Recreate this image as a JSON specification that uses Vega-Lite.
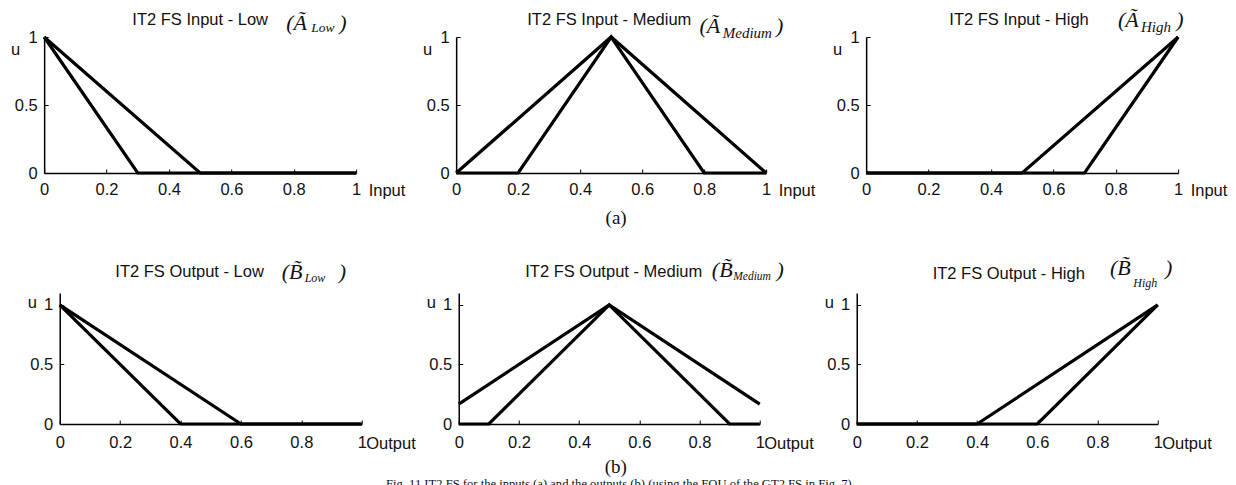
{
 "$schema": "https://vega.github.io/schema/vega-lite/v6.json",
 "background": "white",
 "padding": {"left": 10, "top": 8, "right": 5, "bottom": 0},
 "config": {
  "view": {"stroke": null},
  "axis": {"domainColor": "#000", "domainWidth": 1.5, "tickColor": "#000", "tickWidth": 1, "tickSize": -4, "grid": false, "labelFont": "Liberation Sans", "labelFontSize": 16.5, "labelColor": "#111", "labelFlush": false, "labelOverlap": false, "titleFont": "Liberation Sans", "titleFontSize": 16.5, "titleFontWeight": "normal", "titleColor": "#111"}
 },
 "datasets": {
  "mf": [
   {"p": "IL", "s": "up", "i": 0, "x": 0, "y": 1}, {"p": "IL", "s": "up", "i": 1, "x": 0.5, "y": 0}, {"p": "IL", "s": "up", "i": 2, "x": 1, "y": 0},
   {"p": "IL", "s": "lo", "i": 0, "x": 0, "y": 1}, {"p": "IL", "s": "lo", "i": 1, "x": 0.3, "y": 0}, {"p": "IL", "s": "lo", "i": 2, "x": 1, "y": 0},
   {"p": "IM", "s": "up", "i": 0, "x": 0, "y": 0}, {"p": "IM", "s": "up", "i": 1, "x": 0.5, "y": 1}, {"p": "IM", "s": "up", "i": 2, "x": 1, "y": 0},
   {"p": "IM", "s": "lo", "i": 0, "x": 0, "y": 0}, {"p": "IM", "s": "lo", "i": 1, "x": 0.2, "y": 0}, {"p": "IM", "s": "lo", "i": 2, "x": 0.5, "y": 1}, {"p": "IM", "s": "lo", "i": 3, "x": 0.8, "y": 0}, {"p": "IM", "s": "lo", "i": 4, "x": 1, "y": 0},
   {"p": "IH", "s": "up", "i": 0, "x": 0, "y": 0}, {"p": "IH", "s": "up", "i": 1, "x": 0.5, "y": 0}, {"p": "IH", "s": "up", "i": 2, "x": 1, "y": 1},
   {"p": "IH", "s": "lo", "i": 0, "x": 0, "y": 0}, {"p": "IH", "s": "lo", "i": 1, "x": 0.7, "y": 0}, {"p": "IH", "s": "lo", "i": 2, "x": 1, "y": 1},
   {"p": "OL", "s": "up", "i": 0, "x": 0, "y": 1}, {"p": "OL", "s": "up", "i": 1, "x": 0.6, "y": 0}, {"p": "OL", "s": "up", "i": 2, "x": 1, "y": 0},
   {"p": "OL", "s": "lo", "i": 0, "x": 0, "y": 1}, {"p": "OL", "s": "lo", "i": 1, "x": 0.4, "y": 0}, {"p": "OL", "s": "lo", "i": 2, "x": 1, "y": 0},
   {"p": "OM", "s": "up", "i": 0, "x": 0, "y": 0.167}, {"p": "OM", "s": "up", "i": 1, "x": 0.5, "y": 1}, {"p": "OM", "s": "up", "i": 2, "x": 1, "y": 0.167},
   {"p": "OM", "s": "lo", "i": 0, "x": 0, "y": 0}, {"p": "OM", "s": "lo", "i": 1, "x": 0.1, "y": 0}, {"p": "OM", "s": "lo", "i": 2, "x": 0.5, "y": 1}, {"p": "OM", "s": "lo", "i": 3, "x": 0.9, "y": 0}, {"p": "OM", "s": "lo", "i": 4, "x": 1, "y": 0},
   {"p": "OH", "s": "up", "i": 0, "x": 0, "y": 0}, {"p": "OH", "s": "up", "i": 1, "x": 0.4, "y": 0}, {"p": "OH", "s": "up", "i": 2, "x": 1, "y": 1},
   {"p": "OH", "s": "lo", "i": 0, "x": 0, "y": 0}, {"p": "OH", "s": "lo", "i": 1, "x": 0.6, "y": 0}, {"p": "OH", "s": "lo", "i": 2, "x": 1, "y": 1}
  ]
 },
 "spacing": 28,
 "center": true,
 "vconcat": [
  {
   "spacing": 100,
   "bounds": "flush",
   "hconcat": [
    {
     "width": 312, "height": 136,
     "resolve": {"axis": {"x": "independent", "y": "independent"}},
     "layer": [
      {"data": {"name": "mf"}, "transform": [{"filter": "datum.p === 'IL'"}], "mark": {"type": "line", "color": "#000", "strokeWidth": 3.2},
       "encoding": {
        "x": {"field": "x", "type": "quantitative", "scale": {"domain": [0, 1], "nice": false}, "axis": {"values": [0, 0.2, 0.4, 0.6, 0.8, 1], "format": "~g", "title": "Input", "titleX": 324, "titleY": 22, "titleAlign": "left", "titleBaseline": "alphabetic", "labelPadding": 12}},
        "y": {"field": "y", "type": "quantitative", "scale": {"domain": [0, 1], "nice": false}, "axis": {"values": [0, 0.5, 1], "format": "~g", "title": "u", "titleAngle": 0, "titleX": -29, "titleY": 12, "titleAlign": "center", "titleBaseline": "middle", "labelPadding": 11}},
        "detail": {"field": "s"}, "order": {"field": "i"}}},
      {"data": {"values": [{"t": "IT2 FS Input - Low"}]}, "mark": {"type": "text", "font": "Liberation Sans", "fontSize": 16.5, "align": "center", "baseline": "alphabetic", "color": "#111"},
       "encoding": {"x": {"datum": 0.5, "type": "quantitative", "scale": {"domain": [0, 1], "nice": false}, "axis": null}, "y": {"datum": 1.088, "type": "quantitative", "scale": {"domain": [0, 1], "nice": false}, "axis": null}, "text": {"field": "t"}}},
      {"data": {"values": [{"t": "(Ã"}]}, "mark": {"type": "text", "font": "Liberation Serif", "fontStyle": "italic", "fontSize": 22, "align": "left", "baseline": "alphabetic", "color": "#111"},
       "encoding": {"x": {"datum": 0.776, "type": "quantitative", "scale": {"domain": [0, 1], "nice": false}, "axis": null}, "y": {"datum": 1.051, "type": "quantitative", "scale": {"domain": [0, 1], "nice": false}, "axis": null}, "text": {"field": "t"}}},
      {"data": {"values": [{"t": "Low"}]}, "mark": {"type": "text", "font": "Liberation Serif", "fontStyle": "italic", "fontSize": 13.5, "align": "left", "baseline": "alphabetic", "color": "#111"},
       "encoding": {"x": {"datum": 0.856, "type": "quantitative", "scale": {"domain": [0, 1], "nice": false}, "axis": null}, "y": {"datum": 1.037, "type": "quantitative", "scale": {"domain": [0, 1], "nice": false}, "axis": null}, "text": {"field": "t"}}},
      {"data": {"values": [{"t": ")"}]}, "mark": {"type": "text", "font": "Liberation Serif", "fontStyle": "italic", "fontSize": 22, "align": "left", "baseline": "alphabetic", "color": "#111"},
       "encoding": {"x": {"datum": 0.946, "type": "quantitative", "scale": {"domain": [0, 1], "nice": false}, "axis": null}, "y": {"datum": 1.051, "type": "quantitative", "scale": {"domain": [0, 1], "nice": false}, "axis": null}, "text": {"field": "t"}}}
     ]
    },
    {
     "width": 310, "height": 136,
     "resolve": {"axis": {"x": "independent", "y": "independent"}},
     "layer": [
      {"data": {"name": "mf"}, "transform": [{"filter": "datum.p === 'IM'"}], "mark": {"type": "line", "color": "#000", "strokeWidth": 3.2},
       "encoding": {
        "x": {"field": "x", "type": "quantitative", "scale": {"domain": [0, 1], "nice": false}, "axis": {"values": [0, 0.2, 0.4, 0.6, 0.8, 1], "format": "~g", "title": "Input", "titleX": 322, "titleY": 22, "titleAlign": "left", "titleBaseline": "alphabetic", "labelPadding": 12}},
        "y": {"field": "y", "type": "quantitative", "scale": {"domain": [0, 1], "nice": false}, "axis": {"values": [0, 0.5, 1], "format": "~g", "title": "u", "titleAngle": 0, "titleX": -29, "titleY": 12, "titleAlign": "center", "titleBaseline": "middle", "labelPadding": 11}},
        "detail": {"field": "s"}, "order": {"field": "i"}}},
      {"data": {"values": [{"t": "IT2 FS Input - Medium"}]}, "mark": {"type": "text", "font": "Liberation Sans", "fontSize": 16.5, "align": "center", "baseline": "alphabetic", "color": "#111"},
       "encoding": {"x": {"datum": 0.494, "type": "quantitative", "scale": {"domain": [0, 1], "nice": false}, "axis": null}, "y": {"datum": 1.088, "type": "quantitative", "scale": {"domain": [0, 1], "nice": false}, "axis": null}, "text": {"field": "t"}}},
      {"data": {"values": [{"t": "(Ã"}]}, "mark": {"type": "text", "font": "Liberation Serif", "fontStyle": "italic", "fontSize": 22, "align": "left", "baseline": "alphabetic", "color": "#111"},
       "encoding": {"x": {"datum": 0.785, "type": "quantitative", "scale": {"domain": [0, 1], "nice": false}, "axis": null}, "y": {"datum": 1.029, "type": "quantitative", "scale": {"domain": [0, 1], "nice": false}, "axis": null}, "text": {"field": "t"}}},
      {"data": {"values": [{"t": "Medium"}]}, "mark": {"type": "text", "font": "Liberation Serif", "fontStyle": "italic", "fontSize": 15, "align": "left", "baseline": "alphabetic", "color": "#111"},
       "encoding": {"x": {"datum": 0.86, "type": "quantitative", "scale": {"domain": [0, 1], "nice": false}, "axis": null}, "y": {"datum": 0.993, "type": "quantitative", "scale": {"domain": [0, 1], "nice": false}, "axis": null}, "text": {"field": "t"}}},
      {"data": {"values": [{"t": ")"}]}, "mark": {"type": "text", "font": "Liberation Serif", "fontStyle": "italic", "fontSize": 22, "align": "left", "baseline": "alphabetic", "color": "#111"},
       "encoding": {"x": {"datum": 1.032, "type": "quantitative", "scale": {"domain": [0, 1], "nice": false}, "axis": null}, "y": {"datum": 1.029, "type": "quantitative", "scale": {"domain": [0, 1], "nice": false}, "axis": null}, "text": {"field": "t"}}},
      {"data": {"values": [{"t": "(a)"}]}, "mark": {"type": "text", "font": "Liberation Serif", "fontSize": 19, "align": "center", "baseline": "alphabetic", "color": "#111"},
       "encoding": {"x": {"datum": 0.516, "type": "quantitative", "scale": {"domain": [0, 1], "nice": false}, "axis": null}, "y": {"datum": -0.375, "type": "quantitative", "scale": {"domain": [0, 1], "nice": false}, "axis": null}, "text": {"field": "t"}}}
     ]
    },
    {
     "width": 312, "height": 136,
     "resolve": {"axis": {"x": "independent", "y": "independent"}},
     "layer": [
      {"data": {"name": "mf"}, "transform": [{"filter": "datum.p === 'IH'"}], "mark": {"type": "line", "color": "#000", "strokeWidth": 3.2},
       "encoding": {
        "x": {"field": "x", "type": "quantitative", "scale": {"domain": [0, 1], "nice": false}, "axis": {"values": [0, 0.2, 0.4, 0.6, 0.8, 1], "format": "~g", "title": "Input", "titleX": 324, "titleY": 22, "titleAlign": "left", "titleBaseline": "alphabetic", "labelPadding": 12}},
        "y": {"field": "y", "type": "quantitative", "scale": {"domain": [0, 1], "nice": false}, "axis": {"values": [0, 0.5, 1], "format": "~g", "title": "u", "titleAngle": 0, "titleX": -29, "titleY": 12, "titleAlign": "center", "titleBaseline": "middle", "labelPadding": 11}},
        "detail": {"field": "s"}, "order": {"field": "i"}}},
      {"data": {"values": [{"t": "IT2 FS Input - High"}]}, "mark": {"type": "text", "font": "Liberation Sans", "fontSize": 16.5, "align": "center", "baseline": "alphabetic", "color": "#111"},
       "encoding": {"x": {"datum": 0.49, "type": "quantitative", "scale": {"domain": [0, 1], "nice": false}, "axis": null}, "y": {"datum": 1.088, "type": "quantitative", "scale": {"domain": [0, 1], "nice": false}, "axis": null}, "text": {"field": "t"}}},
      {"data": {"values": [{"t": "(Ã"}]}, "mark": {"type": "text", "font": "Liberation Serif", "fontStyle": "italic", "fontSize": 22, "align": "left", "baseline": "alphabetic", "color": "#111"},
       "encoding": {"x": {"datum": 0.807, "type": "quantitative", "scale": {"domain": [0, 1], "nice": false}, "axis": null}, "y": {"datum": 1.074, "type": "quantitative", "scale": {"domain": [0, 1], "nice": false}, "axis": null}, "text": {"field": "t"}}},
      {"data": {"values": [{"t": "High"}]}, "mark": {"type": "text", "font": "Liberation Serif", "fontStyle": "italic", "fontSize": 15, "align": "left", "baseline": "alphabetic", "color": "#111"},
       "encoding": {"x": {"datum": 0.881, "type": "quantitative", "scale": {"domain": [0, 1], "nice": false}, "axis": null}, "y": {"datum": 1.037, "type": "quantitative", "scale": {"domain": [0, 1], "nice": false}, "axis": null}, "text": {"field": "t"}}},
      {"data": {"values": [{"t": ")"}]}, "mark": {"type": "text", "font": "Liberation Serif", "fontStyle": "italic", "fontSize": 22, "align": "left", "baseline": "alphabetic", "color": "#111"},
       "encoding": {"x": {"datum": 0.994, "type": "quantitative", "scale": {"domain": [0, 1], "nice": false}, "axis": null}, "y": {"datum": 1.074, "type": "quantitative", "scale": {"domain": [0, 1], "nice": false}, "axis": null}, "text": {"field": "t"}}}
     ]
    }
   ]
  },
  {
   "spacing": 97,
   "bounds": "flush",
   "hconcat": [
    {
     "width": 302, "height": 131,
     "resolve": {"axis": {"x": "independent", "y": "independent"}},
     "layer": [
      {"data": {"name": "mf"}, "transform": [{"filter": "datum.p === 'OL'"}], "mark": {"type": "line", "color": "#000", "strokeWidth": 3.2},
       "encoding": {
        "x": {"field": "x", "type": "quantitative", "scale": {"domain": [0, 1], "nice": false}, "axis": {"values": [0, 0.2, 0.4, 0.6, 0.8, 1], "format": "~g", "title": "Output", "titleX": 306, "titleY": 24, "titleAlign": "left", "titleBaseline": "alphabetic", "labelPadding": 14}},
        "y": {"field": "y", "type": "quantitative", "scale": {"domain": [0, 1.1], "nice": false}, "axis": {"values": [0, 0.5, 1], "format": "~g", "title": "u", "titleAngle": 0, "titleX": -28, "titleY": 9, "titleAlign": "center", "titleBaseline": "middle", "labelPadding": 11}},
        "detail": {"field": "s"}, "order": {"field": "i"}}},
      {"data": {"values": [{"t": "IT2 FS Output - Low"}]}, "mark": {"type": "text", "font": "Liberation Sans", "fontSize": 16.5, "align": "center", "baseline": "alphabetic", "color": "#111"},
       "encoding": {"x": {"datum": 0.43, "type": "quantitative", "scale": {"domain": [0, 1], "nice": false}, "axis": null}, "y": {"datum": 1.235, "type": "quantitative", "scale": {"domain": [0, 1.1], "nice": false}, "axis": null}, "text": {"field": "t"}}},
      {"data": {"values": [{"t": "(B̃"}]}, "mark": {"type": "text", "font": "Liberation Serif", "fontStyle": "italic", "fontSize": 22, "align": "left", "baseline": "alphabetic", "color": "#111"},
       "encoding": {"x": {"datum": 0.735, "type": "quantitative", "scale": {"domain": [0, 1], "nice": false}, "axis": null}, "y": {"datum": 1.218, "type": "quantitative", "scale": {"domain": [0, 1.1], "nice": false}, "axis": null}, "text": {"field": "t"}}},
      {"data": {"values": [{"t": "Low"}]}, "mark": {"type": "text", "font": "Liberation Serif", "fontStyle": "italic", "fontSize": 12, "align": "left", "baseline": "alphabetic", "color": "#111"},
       "encoding": {"x": {"datum": 0.811, "type": "quantitative", "scale": {"domain": [0, 1], "nice": false}, "axis": null}, "y": {"datum": 1.193, "type": "quantitative", "scale": {"domain": [0, 1.1], "nice": false}, "axis": null}, "text": {"field": "t"}}},
      {"data": {"values": [{"t": ")"}]}, "mark": {"type": "text", "font": "Liberation Serif", "fontStyle": "italic", "fontSize": 22, "align": "left", "baseline": "alphabetic", "color": "#111"},
       "encoding": {"x": {"datum": 0.924, "type": "quantitative", "scale": {"domain": [0, 1], "nice": false}, "axis": null}, "y": {"datum": 1.218, "type": "quantitative", "scale": {"domain": [0, 1.1], "nice": false}, "axis": null}, "text": {"field": "t"}}}
     ]
    },
    {
     "width": 301, "height": 131,
     "resolve": {"axis": {"x": "independent", "y": "independent"}},
     "layer": [
      {"data": {"name": "mf"}, "transform": [{"filter": "datum.p === 'OM'"}], "mark": {"type": "line", "color": "#000", "strokeWidth": 3.2},
       "encoding": {
        "x": {"field": "x", "type": "quantitative", "scale": {"domain": [0, 1], "nice": false}, "axis": {"values": [0, 0.2, 0.4, 0.6, 0.8, 1], "format": "~g", "title": "Output", "titleX": 305, "titleY": 24, "titleAlign": "left", "titleBaseline": "alphabetic", "labelPadding": 14}},
        "y": {"field": "y", "type": "quantitative", "scale": {"domain": [0, 1.1], "nice": false}, "axis": {"values": [0, 0.5, 1], "format": "~g", "title": "u", "titleAngle": 0, "titleX": -28, "titleY": 9, "titleAlign": "center", "titleBaseline": "middle", "labelPadding": 11}},
        "detail": {"field": "s"}, "order": {"field": "i"}}},
      {"data": {"values": [{"t": "IT2 FS Output - Medium"}]}, "mark": {"type": "text", "font": "Liberation Sans", "fontSize": 16.5, "align": "center", "baseline": "alphabetic", "color": "#111"},
       "encoding": {"x": {"datum": 0.515, "type": "quantitative", "scale": {"domain": [0, 1], "nice": false}, "axis": null}, "y": {"datum": 1.235, "type": "quantitative", "scale": {"domain": [0, 1.1], "nice": false}, "axis": null}, "text": {"field": "t"}}},
      {"data": {"values": [{"t": "(B̃"}]}, "mark": {"type": "text", "font": "Liberation Serif", "fontStyle": "italic", "fontSize": 22, "align": "left", "baseline": "alphabetic", "color": "#111"},
       "encoding": {"x": {"datum": 0.841, "type": "quantitative", "scale": {"domain": [0, 1], "nice": false}, "axis": null}, "y": {"datum": 1.235, "type": "quantitative", "scale": {"domain": [0, 1.1], "nice": false}, "axis": null}, "text": {"field": "t"}}},
      {"data": {"values": [{"t": "Medium"}]}, "mark": {"type": "text", "font": "Liberation Serif", "fontStyle": "italic", "fontSize": 11.5, "align": "left", "baseline": "alphabetic", "color": "#111"},
       "encoding": {"x": {"datum": 0.912, "type": "quantitative", "scale": {"domain": [0, 1], "nice": false}, "axis": null}, "y": {"datum": 1.21, "type": "quantitative", "scale": {"domain": [0, 1.1], "nice": false}, "axis": null}, "text": {"field": "t"}}},
      {"data": {"values": [{"t": ")"}]}, "mark": {"type": "text", "font": "Liberation Serif", "fontStyle": "italic", "fontSize": 22, "align": "left", "baseline": "alphabetic", "color": "#111"},
       "encoding": {"x": {"datum": 1.056, "type": "quantitative", "scale": {"domain": [0, 1], "nice": false}, "axis": null}, "y": {"datum": 1.235, "type": "quantitative", "scale": {"domain": [0, 1.1], "nice": false}, "axis": null}, "text": {"field": "t"}}},
      {"data": {"values": [{"t": "(b)"}]}, "mark": {"type": "text", "font": "Liberation Serif", "fontSize": 19, "align": "center", "baseline": "alphabetic", "color": "#111"},
       "encoding": {"x": {"datum": 0.522, "type": "quantitative", "scale": {"domain": [0, 1], "nice": false}, "axis": null}, "y": {"datum": -0.41, "type": "quantitative", "scale": {"domain": [0, 1.1], "nice": false}, "axis": null}, "text": {"field": "t"}}},
      {"data": {"values": [{"t": "Fig. 11 IT2 FS for the inputs (a) and the outputs (b) (using the FOU of the GT2 FS in Fig. 7)"}]}, "mark": {"type": "text", "font": "Liberation Serif", "fontSize": 12.6, "align": "center", "baseline": "alphabetic", "color": "#111"},
       "encoding": {"x": {"datum": 0.532, "type": "quantitative", "scale": {"domain": [0, 1], "nice": false}, "axis": null}, "y": {"datum": -0.54, "type": "quantitative", "scale": {"domain": [0, 1.1], "nice": false}, "axis": null}, "text": {"field": "t"}}}
     ]
    },
    {
     "width": 301, "height": 131,
     "resolve": {"axis": {"x": "independent", "y": "independent"}},
     "layer": [
      {"data": {"name": "mf"}, "transform": [{"filter": "datum.p === 'OH'"}], "mark": {"type": "line", "color": "#000", "strokeWidth": 3.2},
       "encoding": {
        "x": {"field": "x", "type": "quantitative", "scale": {"domain": [0, 1], "nice": false}, "axis": {"values": [0, 0.2, 0.4, 0.6, 0.8, 1], "format": "~g", "title": "Output", "titleX": 305, "titleY": 24, "titleAlign": "left", "titleBaseline": "alphabetic", "labelPadding": 14}},
        "y": {"field": "y", "type": "quantitative", "scale": {"domain": [0, 1.1], "nice": false}, "axis": {"values": [0, 0.5, 1], "format": "~g", "title": "u", "titleAngle": 0, "titleX": -28, "titleY": 9, "titleAlign": "center", "titleBaseline": "middle", "labelPadding": 11}},
        "detail": {"field": "s"}, "order": {"field": "i"}}},
      {"data": {"values": [{"t": "IT2 FS Output - High"}]}, "mark": {"type": "text", "font": "Liberation Sans", "fontSize": 16.5, "align": "center", "baseline": "alphabetic", "color": "#111"},
       "encoding": {"x": {"datum": 0.505, "type": "quantitative", "scale": {"domain": [0, 1], "nice": false}, "axis": null}, "y": {"datum": 1.22, "type": "quantitative", "scale": {"domain": [0, 1.1], "nice": false}, "axis": null}, "text": {"field": "t"}}},
      {"data": {"values": [{"t": "(B̃"}]}, "mark": {"type": "text", "font": "Liberation Serif", "fontStyle": "italic", "fontSize": 22, "align": "left", "baseline": "alphabetic", "color": "#111"},
       "encoding": {"x": {"datum": 0.8415, "type": "quantitative", "scale": {"domain": [0, 1], "nice": false}, "axis": null}, "y": {"datum": 1.252, "type": "quantitative", "scale": {"domain": [0, 1.1], "nice": false}, "axis": null}, "text": {"field": "t"}}},
      {"data": {"values": [{"t": "High"}]}, "mark": {"type": "text", "font": "Liberation Serif", "fontStyle": "italic", "fontSize": 12, "align": "left", "baseline": "alphabetic", "color": "#111"},
       "encoding": {"x": {"datum": 0.919, "type": "quantitative", "scale": {"domain": [0, 1], "nice": false}, "axis": null}, "y": {"datum": 1.151, "type": "quantitative", "scale": {"domain": [0, 1.1], "nice": false}, "axis": null}, "text": {"field": "t"}}},
      {"data": {"values": [{"t": ")"}]}, "mark": {"type": "text", "font": "Liberation Serif", "fontStyle": "italic", "fontSize": 22, "align": "left", "baseline": "alphabetic", "color": "#111"},
       "encoding": {"x": {"datum": 1.024, "type": "quantitative", "scale": {"domain": [0, 1], "nice": false}, "axis": null}, "y": {"datum": 1.252, "type": "quantitative", "scale": {"domain": [0, 1.1], "nice": false}, "axis": null}, "text": {"field": "t"}}}
     ]
    }
   ]
  }
 ]
}
